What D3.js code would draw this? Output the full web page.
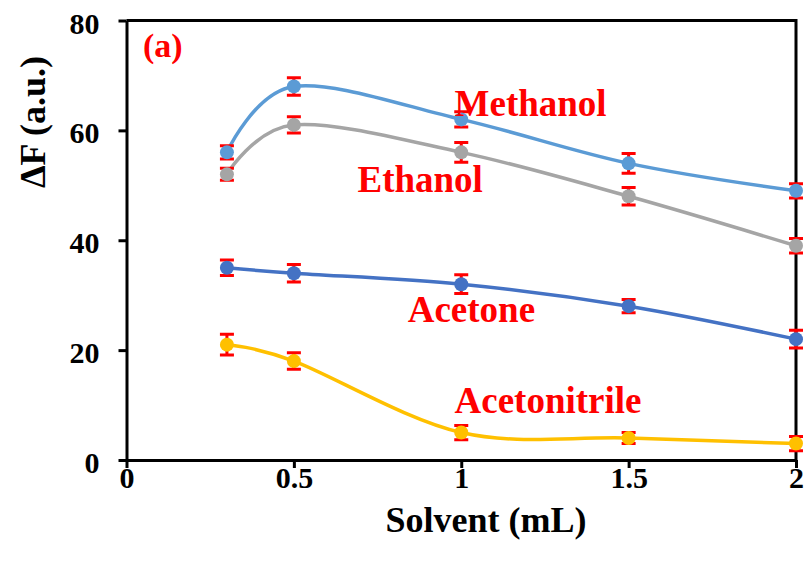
<!DOCTYPE html>
<html>
<head>
<meta charset="utf-8">
<script src="https://cdn.jsdelivr.net/npm/d3@7"></script>
<style>
    body { margin: 0; background: #fff; }
    svg text { font-family: "Liberation Serif", "DejaVu Serif", "Times New Roman", Times, serif; font-weight: bold; }
</style>
</head>
<body>
<div id="chart"></div>
<script>
// Solvent volume (mL)
const solvent = [0.3, 0.5, 1, 1.5, 2];

// Delta F per solvent, with error bars
const methanol = [56, 68, 62, 54, 49];
const methanolErr = [1.2, 1.6, 1.4, 1.8, 1.3];
const ethanol = [52, 61, 56, 48, 39];
const ethanolErr = [1.1, 1.5, 1.8, 1.6, 1.3];
const acetone = [35, 34, 32, 28, 22];
const acetoneErr = [1.4, 1.6, 1.7, 1.2, 1.6];
const acetonitrile = [21, 18, 5, 4, 3];
const acetonitrileErr = [1.9, 1.5, 1.3, 1.0, 1.3];

const xTicks = [0, 0.5, 1, 1.5, 2];
const yTicks = [0, 20, 40, 60, 80];

const series = [
    { name: 'Methanol', values: methanol, err: methanolErr, color: '#5b9bd5', label: [0.98, 62.7] },
    { name: 'Ethanol', values: ethanol, err: ethanolErr, color: '#a5a5a5', label: [0.69, 48.7] },
    { name: 'Acetone', values: acetone, err: acetoneErr, color: '#4472c4', label: [0.84, 25.1] },
    { name: 'Acetonitrile', values: acetonitrile, err: acetonitrileErr, color: '#ffc000', label: [0.98, 8.5] }
];

const width = 809;
const height = 565;
const margin = [20.5, 105, 13, 126.5]; // top, bottom, right, left

const svg = d3.select('#chart')
    .append('svg')
    .attr('width', width)
    .attr('height', height);

const x = d3.scaleLinear()
    .domain([0, 2])
    .range([margin[3], width - margin[2]]);

const y = d3.scaleLinear()
    .domain([0, 80])
    .range([height - margin[1], margin[0]]);

// Frame (top + right)
svg.append('path')
    .attr('d', `M${x(0)},${y(80)}H${x(2)}V${y(0)}`)
    .attr('fill', 'none')
    .attr('stroke', '#000')
    .attr('stroke-width', 3);

// Axes
const xAxis = svg.append('g')
    .attr('transform', `translate(0, ${y(0)})`)
    .call(d3.axisBottom(x).tickValues(xTicks).tickSize(8).tickSizeOuter(0).tickFormat(d3.format('')));

const yAxis = svg.append('g')
    .attr('transform', `translate(${x(0)}, 0)`)
    .call(d3.axisLeft(y).tickValues(yTicks).tickSize(8).tickSizeOuter(0).tickPadding(19));

[xAxis, yAxis].forEach(g => {
    g.attr('font-family', null).attr('font-size', null);
    g.select('.domain').attr('stroke-width', 3);
    g.selectAll('.tick line').attr('stroke-width', 3);
    g.selectAll('text')
        .style('font-size', '30px')
        .attr('fill', '#000');
});

xAxis.selectAll('text').attr('y', 28).attr('dy', 0);
yAxis.selectAll('text').attr('dy', '0.42em');

// Axis titles
svg.append('text')
    .attr('x', 486)
    .attr('y', 532)
    .attr('text-anchor', 'middle')
    .style('font-size', '36px')
    .text('Solvent (mL)');

svg.append('text')
    .attr('transform', 'translate(45, 122) rotate(-90)')
    .attr('text-anchor', 'middle')
    .style('font-size', '36px')
    .text('ΔF (a.u.)');

// Lines
const lineGen = d3.line()
    .x((d, i) => x(solvent[i]))
    .y(d => y(d))
    .curve(d3.curveCardinal.tension(0));

svg.selectAll('path.series')
    .data(series)
    .join('path')
    .classed('series', true)
    .attr('fill', 'none')
    .attr('stroke', d => d.color)
    .attr('stroke-width', 3.5)
    .attr('d', d => lineGen(d.values));

// Error bars
const points = series.flatMap(s => s.values.map((v, i) => ({ x: solvent[i], v: v, e: s.err[i], color: s.color })));

const bars = svg.append('g')
    .attr('stroke', '#ff0000')
    .attr('stroke-width', 3);

bars.selectAll('path')
    .data(points)
    .join('path')
    .attr('fill', 'none')
    .attr('d', d => {
        const px = x(d.x);
        const top = y(d.v + d.e);
        const bot = y(d.v - d.e);
        return `M${px - 7},${top}H${px + 7}M${px},${top}V${bot}M${px - 7},${bot}H${px + 7}`;
    });

// Markers
svg.append('g')
    .selectAll('circle')
    .data(points)
    .join('circle')
    .attr('cx', d => x(d.x))
    .attr('cy', d => y(d.v))
    .attr('r', 7)
    .attr('fill', d => d.color);

// Series labels
svg.append('g')
    .selectAll('text')
    .data(series)
    .join('text')
    .attr('x', d => x(d.label[0]))
    .attr('y', d => y(d.label[1]))
    .style('font-size', '37px')
    .attr('fill', '#ff0000')
    .text(d => d.name);

svg.append('text')
    .attr('x', 143)
    .attr('y', 57)
    .style('font-size', '34px')
    .attr('fill', '#ff0000')
    .text('(a)');
</script>
</body>
</html>
